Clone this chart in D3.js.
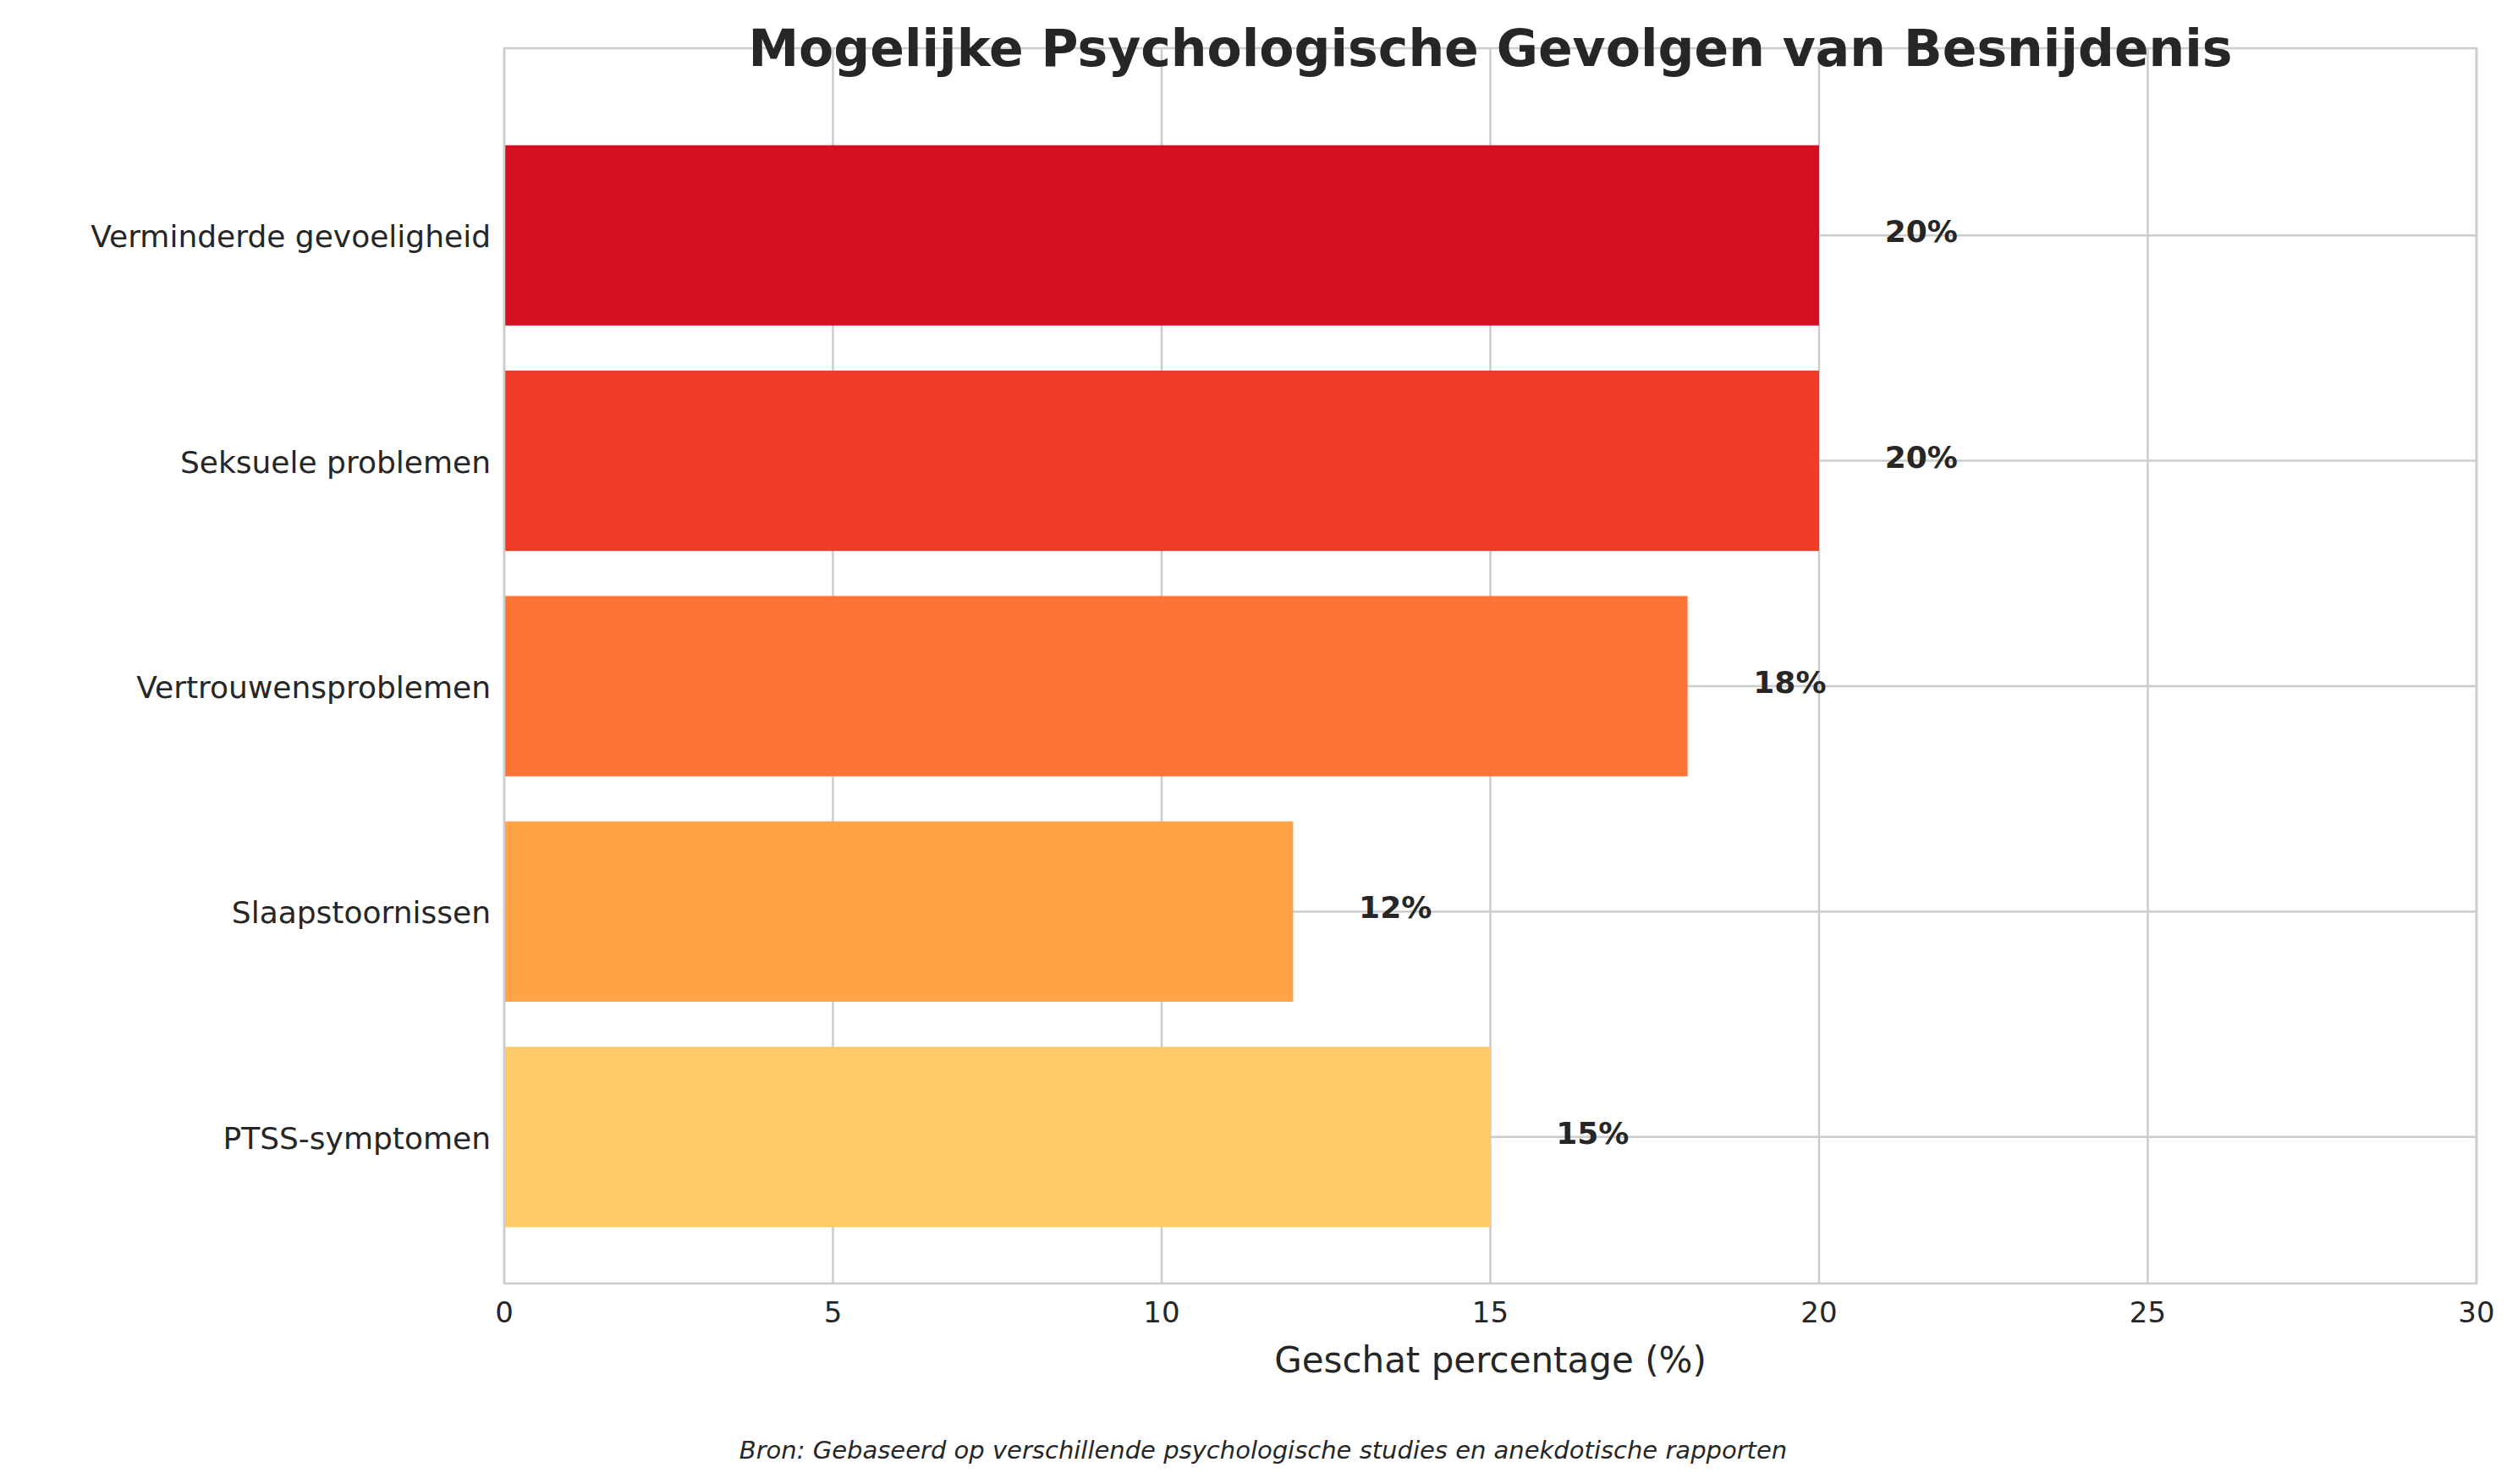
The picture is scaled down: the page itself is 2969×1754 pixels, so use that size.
<!DOCTYPE html>
<html><head><meta charset="utf-8">
<script src="https://cdn.jsdelivr.net/npm/d3@7"></script>
<style>body{margin:0;background:#fff}text{font-family:"DejaVu Sans",sans-serif}</style>
</head><body><svg id="chart"></svg>
<script>
const categories = ['Verminderde gevoeligheid', 'Seksuele problemen', 'Vertrouwensproblemen', 'Slaapstoornissen', 'PTSS-symptomen'];
const values = [20, 20, 18, 12, 15];
const colors = ['#d41020', '#f23b26', '#fd7536', '#fea446', '#feca66'];
const xTicks = [0, 5, 10, 15, 20, 25, 30];

const width = 2969, height = 1754;
const plotL = 596, plotR = 2927, plotT = 57, plotB = 1517;
const svg = d3.select('#chart').attr('width', width).attr('height', height);

const x = d3.scaleLinear().domain([0, 30]).range([plotL, plotR]);
const y = d3.scaleBand().domain(categories).range([145, 1477]).paddingInner(0.2).paddingOuter(0.1);

// grid
xTicks.forEach(t => {
  svg.append('line').attr('x1', x(t)).attr('x2', x(t)).attr('y1', plotT).attr('y2', plotB)
    .attr('stroke', '#cccccc').attr('stroke-width', 2.5);
});
categories.forEach(c => {
  const cy = y(c) + y.bandwidth() / 2;
  svg.append('line').attr('x1', plotL).attr('x2', plotR).attr('y1', cy).attr('y2', cy)
    .attr('stroke', '#cccccc').attr('stroke-width', 2.5);
});

// bars
categories.forEach((c, i) => {
  svg.append('rect').attr('x', x(0)).attr('y', y(c)).attr('width', x(values[i]) - x(0))
    .attr('height', y.bandwidth()).attr('fill', colors[i]);
  svg.append('text').attr('x', x(values[i] + 1)).attr('y', y(c) + y.bandwidth() / 2 - 2)
    .attr('dominant-baseline', 'middle').attr('font-size', 36).attr('font-weight', 'bold')
    .attr('fill', '#262626').text(values[i] + '%');
  svg.append('text').attr('x', plotL - 16).attr('y', y(c) + y.bandwidth() / 2 + 4)
    .attr('dominant-baseline', 'middle').attr('text-anchor', 'end').attr('font-size', 36)
    .attr('fill', '#262626').text(c);
});

// frame
svg.append('rect').attr('x', plotL).attr('y', plotT).attr('width', plotR - plotL).attr('height', plotB - plotT)
  .attr('fill', 'none').attr('stroke', '#cccccc').attr('stroke-width', 2.5);

// x tick labels
xTicks.forEach(t => {
  svg.append('text').attr('x', x(t)).attr('y', plotB + 46).attr('text-anchor', 'middle')
    .attr('font-size', 34).attr('fill', '#262626').text(t);
});

svg.append('text').attr('x', (plotL + plotR) / 2).attr('y', 1622).attr('text-anchor', 'middle')
  .attr('font-size', 42).attr('fill', '#262626').text('Geschat percentage (%)');
svg.append('text').attr('x', (plotL + plotR) / 2).attr('y', 78).attr('text-anchor', 'middle')
  .attr('font-size', 60).attr('font-weight', 'bold').attr('fill', '#262626')
  .text('Mogelijke Psychologische Gevolgen van Besnijdenis');
svg.append('text').attr('x', 1493).attr('y', 1724).attr('text-anchor', 'middle')
  .attr('font-size', 29).attr('font-style', 'italic').attr('fill', '#262626')
  .text('Bron: Gebaseerd op verschillende psychologische studies en anekdotische rapporten');
</script></body></html>
